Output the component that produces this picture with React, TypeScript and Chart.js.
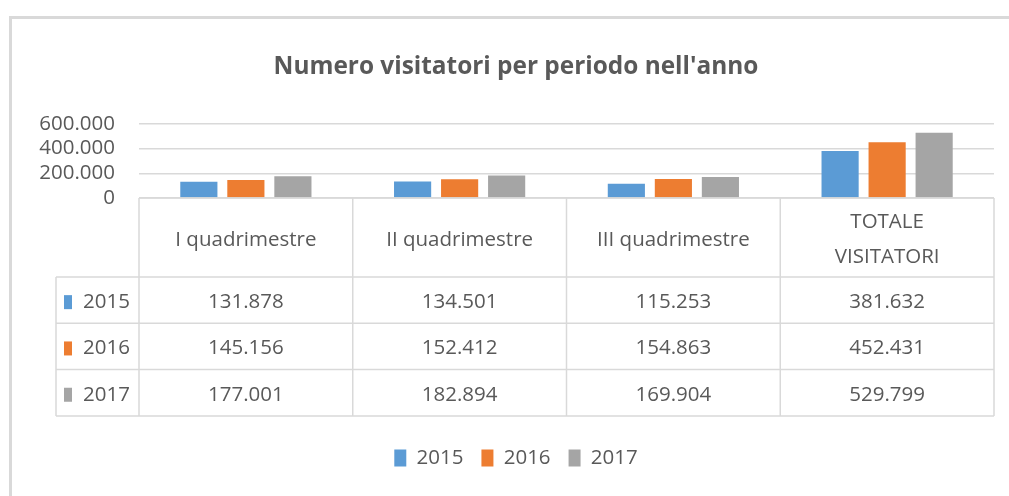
import { useEffect, useRef } from 'react';
import { Chart, registerables } from 'chart.js';

Chart.register(...registerables);

const title = "Numero visitatori per periodo nell'anno";
const categories = ['I quadrimestre', 'II quadrimestre', 'III quadrimestre', 'TOTALE VISITATORI'];
const categoryLines = [['I quadrimestre'], ['II quadrimestre'], ['III quadrimestre'], ['TOTALE', 'VISITATORI']];
const seriesNames = ['2015', '2016', '2017'];
const values2015 = [131878, 134501, 115253, 381632];
const values2016 = [145156, 152412, 154863, 452431];
const values2017 = [177001, 182894, 169904, 529799];
const yTickValues = [0, 200000, 400000, 600000];
const seriesColors = ['#5B9BD5', '#ED7D31', '#A5A5A5'];

const FONT = "'Open Sans', sans-serif";
const TEXT = '#595959';
const LINE = '#D9D9D9';
const FS = 20.5;

const fmt = (n: number) => String(Math.round(n)).replace(/\B(?=(\d{3})+(?!\d))/g, '.');

export default function App() {
  const ref = useRef<HTMLCanvasElement>(null);

  useEffect(() => {
    document.body.style.margin = '0';
    const canvas = ref.current!;
    const seriesValues = [values2015, values2016, values2017];

    const framePlugin = {
      id: 'frame',
      beforeDraw(chart: any) {
        const ctx = chart.ctx;
        ctx.save();
        ctx.fillStyle = '#ffffff';
        ctx.fillRect(0, 0, chart.width, chart.height);
        ctx.strokeStyle = LINE;
        ctx.lineWidth = 3;
        ctx.beginPath();
        ctx.moveTo(10.5, chart.height);
        ctx.lineTo(10.5, 17.5);
        ctx.lineTo(chart.width, 17.5);
        ctx.stroke();
        ctx.restore();
      },
    };

    const tablePlugin = {
      id: 'dataTable',
      afterDraw(chart: any) {
        const ctx = chart.ctx;
        const xScale = chart.scales.x;
        const { left, right, bottom } = chart.chartArea;
        const colW = (right - left) / categories.length;
        const headerH = 79;
        const rowH = 46.3;
        const legLeft = 56;
        const y0 = bottom;
        const y1 = y0 + headerH;
        const yEnd = y1 + rowH * seriesNames.length;
        ctx.save();
        ctx.strokeStyle = LINE;
        ctx.lineWidth = 1.5;
        const line = (ax: number, ay: number, bx: number, by: number) => {
          ctx.beginPath();
          ctx.moveTo(ax, ay);
          ctx.lineTo(bx, by);
          ctx.stroke();
        };
        line(left, y0, right, y0);
        for (let r = 0; r <= seriesNames.length; r++) {
          const y = y1 + r * rowH;
          line(legLeft, y, right, y);
        }
        for (let i = 0; i <= categories.length; i++) {
          const x = left + i * colW;
          line(x, y0, x, yEnd);
        }
        line(legLeft, y1, legLeft, yEnd);

        ctx.fillStyle = TEXT;
        ctx.font = `${FS}px ${FONT}`;
        ctx.textAlign = 'center';
        ctx.textBaseline = 'middle';
        categoryLines.forEach((lines, i) => {
          const cx = xScale.getPixelForValue(i);
          const mid = (y0 + y1) / 2 + 2.5;
          const lh = 35;
          lines.forEach((t, k) => {
            const y = mid + (k - (lines.length - 1) / 2) * lh;
            ctx.fillText(t, cx, y);
          });
        });
        seriesNames.forEach((name, s) => {
          const cy = y1 + s * rowH + rowH / 2 + 2;
          ctx.fillStyle = seriesColors[s];
          ctx.fillRect(64, cy - 7, 8, 14);
          ctx.fillStyle = TEXT;
          ctx.textAlign = 'left';
          ctx.fillText(name, 83, cy);
          ctx.textAlign = 'center';
          seriesValues[s].forEach((v, i) => {
            ctx.fillText(fmt(v), xScale.getPixelForValue(i), cy);
          });
        });
        ctx.restore();
      },
    };

    Chart.defaults.font.family = FONT;
    Chart.defaults.color = TEXT;

    const chart = new Chart(canvas, {
      type: 'bar',
      data: {
        labels: categories,
        datasets: seriesNames.map((name, s) => ({
          label: name,
          data: seriesValues[s],
          backgroundColor: seriesColors[s],
          borderWidth: 0,
          categoryPercentage: 0.66,
          barPercentage: 0.79,
        })),
      },
      options: {
        responsive: false,
        animation: false,
        devicePixelRatio: 1,
        layout: { padding: { left: 38, right: 15, top: 0, bottom: 17.75 } },
        plugins: {
          tooltip: { enabled: false },
          title: {
            display: true,
            text: title,
            color: TEXT,
            font: { size: 24.4, weight: 'bold', family: FONT },
            padding: { top: 52, bottom: 42.7 },
          },
          legend: {
            position: 'bottom',
            labels: {
              color: TEXT,
              font: { size: FS, family: FONT },
              boxWidth: 12,
              boxHeight: 17,
              padding: 18,
            },
          },
        },
        scales: {
          x: {
            display: true,
            grid: { display: false },
            border: { display: false },
            ticks: { display: false },
            afterFit: (scale: any) => {
              scale.height = 231.75;
            },
          },
          y: {
            min: 0,
            max: 600000,
            afterBuildTicks: (scale: any) => {
              scale.ticks = yTickValues.map((v) => ({ value: v }));
            },
            afterFit: (scale: any) => {
              scale.width = 101;
            },
            grid: { color: LINE, lineWidth: 1.5, drawTicks: false },
            border: { display: false },
            ticks: {
              autoSkip: false,
              padding: 24,
              color: TEXT,
              font: { size: FS, family: FONT },
              callback: (v: any) => fmt(Number(v)),
            },
          },
        },
      },
      plugins: [framePlugin, tablePlugin],
    });
    return () => chart.destroy();
  }, []);

  return (
    <div style={{ width: 1009, height: 496 }}>
      <canvas ref={ref} width={1009} height={496} style={{ display: 'block' }} />
    </div>
  );
}
